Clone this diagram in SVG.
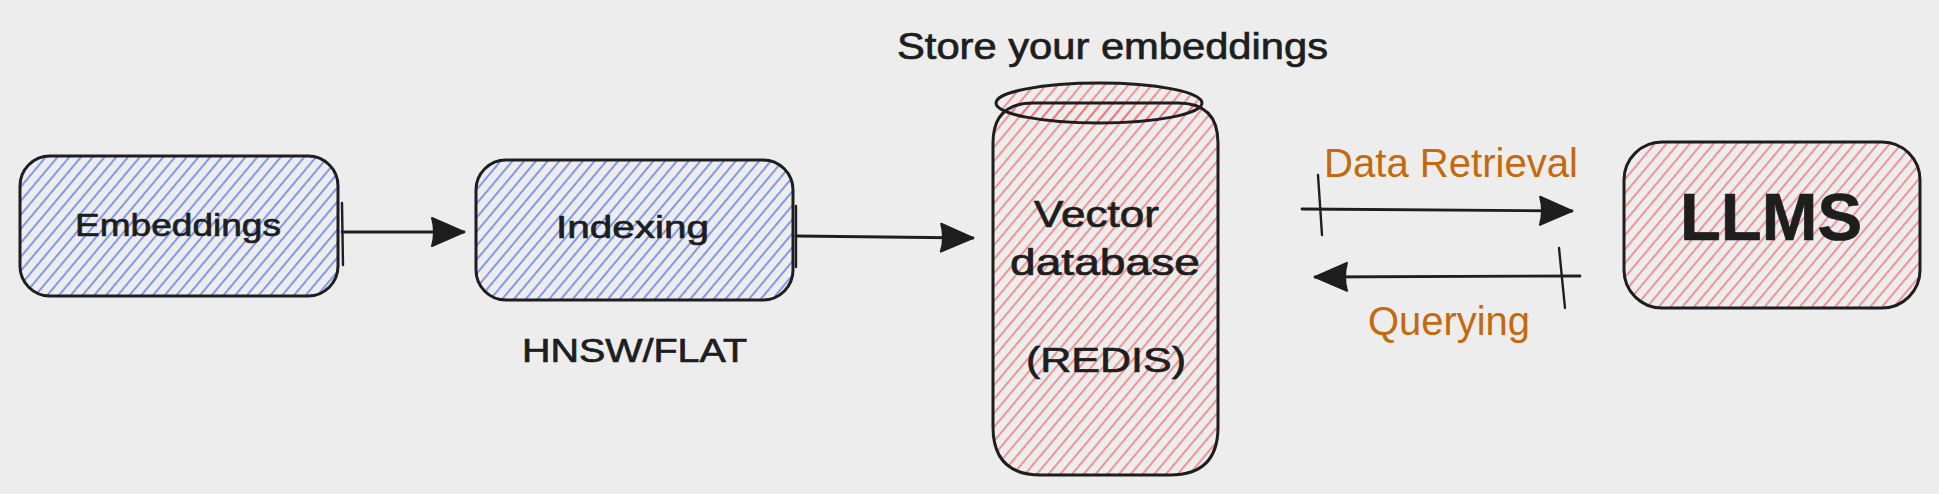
<svg xmlns="http://www.w3.org/2000/svg" width="1939" height="494" viewBox="0 0 1939 494">
  <style>
    .outline { fill: none; stroke: #1e1e1e; stroke-width: 3; stroke-linejoin: round; stroke-linecap: round; }
    .hand { font-family: "Liberation Sans", "DejaVu Sans", sans-serif; fill: #1e1e1e; stroke: #1e1e1e; stroke-width: 0.7; }
    .label { font-family: "Liberation Sans", "Arial", sans-serif; fill: #c4690c; font-size: 40px; }
    .conn { fill: none; stroke: #1e1e1e; stroke-width: 2.8; stroke-linecap: round; }
    .tick { fill: none; stroke: #1e1e1e; stroke-width: 2.4; stroke-linecap: round; }
  </style>
  <defs>
    <pattern id="hatchBlue" width="9" height="9" patternUnits="userSpaceOnUse" patternTransform="rotate(40)">
      <line x1="1" y1="0" x2="1" y2="9" stroke="#5173f5" stroke-width="1.4"/>
    </pattern>
    <pattern id="hatchRed" width="9" height="9" patternUnits="userSpaceOnUse" patternTransform="rotate(40)">
      <line x1="1" y1="0" x2="1" y2="9" stroke="#f86a6a" stroke-width="1.4"/>
    </pattern>
    <marker id="arrow" markerUnits="userSpaceOnUse" markerWidth="36" markerHeight="32" viewBox="0 0 36 32" refX="34" refY="16" orient="auto">
      <path d="M2 2 L34 16 L2 30 Q6 16 2 2 Z" fill="#1e1e1e" stroke="#1e1e1e" stroke-width="2" stroke-linejoin="round"/>
    </marker>
  </defs>

  <rect width="1939" height="494" fill="#ededed"/>

  <g id="node-embeddings">
    <rect x="20" y="156" width="318" height="140" rx="30" ry="30" fill="url(#hatchBlue)"/>
    <rect class="outline" x="20" y="156" width="318" height="140" rx="30" ry="30"/>
    <text class="hand" x="75" y="236" font-size="32" textLength="206" lengthAdjust="spacingAndGlyphs">Embeddings</text>
  </g>

  <g id="node-indexing">
    <rect x="476" y="160" width="317" height="140" rx="30" ry="30" fill="url(#hatchBlue)"/>
    <rect class="outline" x="476" y="160" width="317" height="140" rx="30" ry="30"/>
    <text class="hand" x="556" y="238" font-size="32" textLength="153" lengthAdjust="spacingAndGlyphs">Indexing</text>
  </g>

  <g id="label-hnsw">
    <text class="hand" x="522" y="362" font-size="33" textLength="225" lengthAdjust="spacingAndGlyphs">HNSW/FLAT</text>
  </g>

  <g id="label-store">
    <text class="hand" x="897" y="59" font-size="36" textLength="431" lengthAdjust="spacingAndGlyphs">Store your embeddings</text>
  </g>

  <g id="node-vector-db">
    <path d="M993 143 Q993 103 1033 103 L1178 103 Q1218 103 1218 143 L1218 427 Q1218 475 1170 475 L1041 475 Q993 475 993 427 Z" fill="url(#hatchRed)"/>
    <ellipse cx="1099" cy="103" rx="103" ry="20" fill="url(#hatchRed)"/>
    <path class="outline" d="M993 143 Q993 103 1033 103 L1178 103 Q1218 103 1218 143 L1218 427 Q1218 475 1170 475 L1041 475 Q993 475 993 427 Z"/>
    <ellipse class="outline" cx="1099" cy="103" rx="103" ry="20"/>
    <text class="hand" x="1034" y="227" font-size="36" textLength="125" lengthAdjust="spacingAndGlyphs">Vector</text>
    <text class="hand" x="1010" y="275" font-size="36" textLength="190" lengthAdjust="spacingAndGlyphs">database</text>
    <text class="hand" x="1026" y="372" font-size="35" textLength="160" lengthAdjust="spacingAndGlyphs">(REDIS)</text>
  </g>

  <g id="node-llms">
    <rect x="1624" y="142" width="296" height="166" rx="38" ry="38" fill="url(#hatchRed)"/>
    <rect class="outline" x="1624" y="142" width="296" height="166" rx="38" ry="38"/>
    <text class="hand" x="1680" y="240" font-size="66" font-weight="bold" textLength="182" lengthAdjust="spacingAndGlyphs">LLMS</text>
  </g>

  <g id="connectors">
    <line class="tick" x1="342" y1="203" x2="343" y2="265"/>
    <line class="conn" x1="342" y1="232" x2="464" y2="232" marker-end="url(#arrow)"/>

    <line class="tick" x1="796" y1="206" x2="796" y2="267"/>
    <line class="conn" x1="796" y1="236" x2="973" y2="238" marker-end="url(#arrow)"/>

    <line class="tick" x1="1318" y1="175" x2="1322" y2="235"/>
    <line class="conn" x1="1302" y1="209" x2="1572" y2="211" marker-end="url(#arrow)"/>

    <line class="tick" x1="1559" y1="248" x2="1565" y2="308"/>
    <line class="conn" x1="1580" y1="276" x2="1315" y2="277" marker-end="url(#arrow)"/>
  </g>

  <g id="connector-labels">
    <text class="label" x="1324" y="177" textLength="254" lengthAdjust="spacingAndGlyphs">Data Retrieval</text>
    <text class="label" x="1368" y="335" textLength="162" lengthAdjust="spacingAndGlyphs">Querying</text>
  </g>
</svg>
